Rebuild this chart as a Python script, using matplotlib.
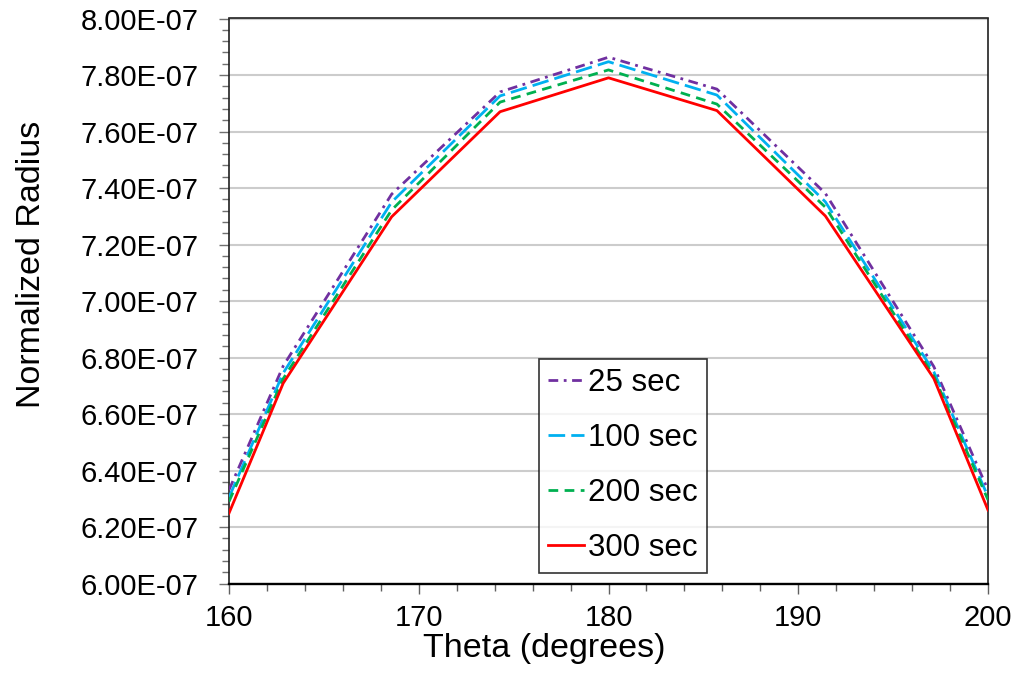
#!/usr/bin/env python
"""Normalized radius vs theta for several times"""

import matplotlib
matplotlib.use('Agg')
import matplotlib.pyplot as plt
from matplotlib.ticker import FuncFormatter, MultipleLocator

# angle samples (deg), 360/63 spacing, chart clipped to 160..200
theta = [160.0, 162.857, 168.571, 174.286, 180.0, 185.714, 191.429, 197.143, 200.0]

# radius values in units of 1e-7
r_25 = [6.331, 6.770, 7.378, 7.740, 7.863, 7.750, 7.381, 6.768, 6.331]
r_100 = [6.305, 6.745, 7.350, 7.726, 7.847, 7.729, 7.351, 6.750, 6.307]
r_200 = [6.290, 6.725, 7.322, 7.704, 7.818, 7.697, 7.332, 6.735, 6.296]
r_300 = [6.249, 6.709, 7.298, 7.670, 7.790, 7.674, 7.301, 6.726, 6.260]

labels = ['25 sec', '100 sec', '200 sec', '300 sec']

plt.rcParams['font.family'] = ['Liberation Sans', 'DejaVu Sans']

fig = plt.figure(figsize=(10.19, 6.79), dpi=100)
ax = fig.add_axes([229/1019, 1 - 583.5/679, 759/1019, 565/679])

lw = 2.0
series = [
    (r_25, '#7030A0', (0, (3.5, 2.0, 1.0, 2.0))),
    (r_100, '#00B0F0', (0, (6.0, 2.2))),
    (r_200, '#00B050', (0, (3.5, 2.3))),
    (r_300, '#FF0000', '-'),
]
for (vals, color, ls), lab in zip(series, labels):
    ax.plot(theta, [v * 1e-7 for v in vals], color=color, linestyle=ls,
            linewidth=lw, label=lab, zorder=3)

ax.set_xlim(160, 200)
ax.set_ylim(6.0e-7, 8.0e-7)
ax.xaxis.set_major_locator(MultipleLocator(10))
ax.xaxis.set_minor_locator(MultipleLocator(2))
ax.yaxis.set_major_locator(MultipleLocator(0.2e-7))
ax.yaxis.set_minor_locator(MultipleLocator(0.04e-7))
ax.yaxis.set_major_formatter(FuncFormatter(lambda v, p: '%.2fE-07' % (v * 1e7)))

ax.grid(axis='y', which='major', color='#cccccc', linewidth=1.5, zorder=0)
ax.tick_params(axis='y', which='major', direction='out', length=7, width=1.0,
               color='#707070', labelsize=21, pad=15)
ax.tick_params(axis='y', which='minor', direction='out', length=5, width=1.0,
               color='#707070')
ax.tick_params(axis='x', which='major', direction='out', length=7, width=1.0,
               color='#606060', labelsize=21, pad=8)
ax.tick_params(axis='x', which='minor', direction='out', length=5, width=1.0,
               color='#606060')

for side in ['top', 'left', 'right']:
    ax.spines[side].set_color('#202020')
    ax.spines[side].set_linewidth(1.2)
ax.spines['bottom'].set_color('black')
ax.spines['bottom'].set_linewidth(1.7)

ax.set_xlabel('Theta (degrees)', fontsize=24.5)
ax.set_ylabel('Normalized Radius', fontsize=24.5)
ax.xaxis.set_label_coords(0.416, -0.088)
ax.yaxis.set_label_coords(-0.240, 0.564)

leg = ax.legend(loc='upper left', bbox_to_anchor=(0.4084, 0.3973),
                borderaxespad=0, fontsize=22.5, frameon=True, fancybox=False,
                handlelength=1.15, handletextpad=0.12, labelspacing=0.8,
                borderpad=0.3)
leg.get_frame().set_edgecolor('black')
leg.get_frame().set_linewidth(1.2)

plt.savefig('out.png', dpi=100)
